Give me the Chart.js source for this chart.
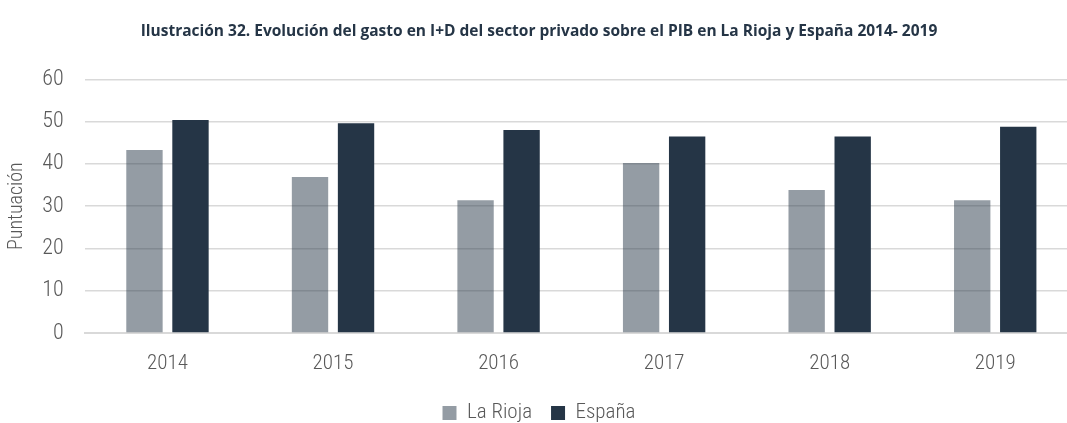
<!DOCTYPE html>
<html><head><meta charset="utf-8">
<script src="https://cdn.jsdelivr.net/npm/chart.js@4/dist/chart.umd.min.js"></script>
<style>
html,body{margin:0;padding:0;background:#fff;overflow:hidden;}
#wrap{position:relative;width:1085px;height:423px;}
</style></head>
<body>
<div id="wrap"><canvas id="c"></canvas></div>
<script>
const title = 'Ilustración 32. Evolución del gasto en I+D del sector privado sobre el PIB en La Rioja y España 2014- 2019';
const categories = ['2014','2015','2016','2017','2018','2019'];
const laRioja = [43.3, 36.9, 31.4, 40.2, 33.8, 31.4];
const espana = [50.4, 49.6, 48.0, 46.5, 46.5, 48.8];
const yTicks = [0,10,20,30,40,50,60];
const NARROW = '"Roboto Condensed", Roboto, sans-serif';

new Chart(document.getElementById('c'), {
  type: 'bar',
  data: {
    labels: categories,
    datasets: [
      {label: 'La Rioja', data: laRioja, backgroundColor: 'rgba(37,53,70,0.49)'},
      {label: 'España', data: espana, backgroundColor: '#253546'}
    ]
  },
  options: {
    responsive: true,
    maintainAspectRatio: false,
    animation: false,
    devicePixelRatio: 1,
    layout: {padding: {left: 0, right: 7, top: 0, bottom: -10.5}},
    datasets: {bar: {categoryPercentage: 0.556, barPercentage: 0.79}},
    plugins: {
      title: {
        display: true, text: title, color: '#253546',
        font: {family: '"Open Sans", sans-serif', size: 15.5, weight: 'bold'},
        padding: {top: 22, bottom: 38.7}
      },
      legend: {
        position: 'bottom',
        labels: {
          color: '#595959', boxWidth: 14, boxHeight: 14, padding: 19,
          font: {family: NARROW, size: 21, weight: 300}
        }
      },
      tooltip: {enabled: false}
    },
    scales: {
      x: {
        afterFit: (s) => { s.height = 50.5; },
        grid: {display: false, drawTicks: false},
        border: {color: '#d9d9d9', width: 2},
        ticks: {color: '#595959', font: {family: NARROW, size: 21, weight: 300}, padding: 18}
      },
      y: {
        min: 0, max: 60,
        afterBuildTicks: (s) => { s.ticks = yTicks.map(v => ({value: v})); },
        afterFit: (s) => { s.width = 84.7; },
        grid: {color: '#d9d9d9', lineWidth: 1.5, drawTicks: false},
        border: {display: false},
        ticks: {color: '#595959', font: {family: NARROW, size: 22, weight: 300}, padding: 21},
        title: {display: true, text: 'Puntuación', color: '#595959',
          font: {family: NARROW, size: 20, weight: 300}, padding: {top: 5, bottom: 0}}
      }
    }
  }
});
</script>
</body></html>
